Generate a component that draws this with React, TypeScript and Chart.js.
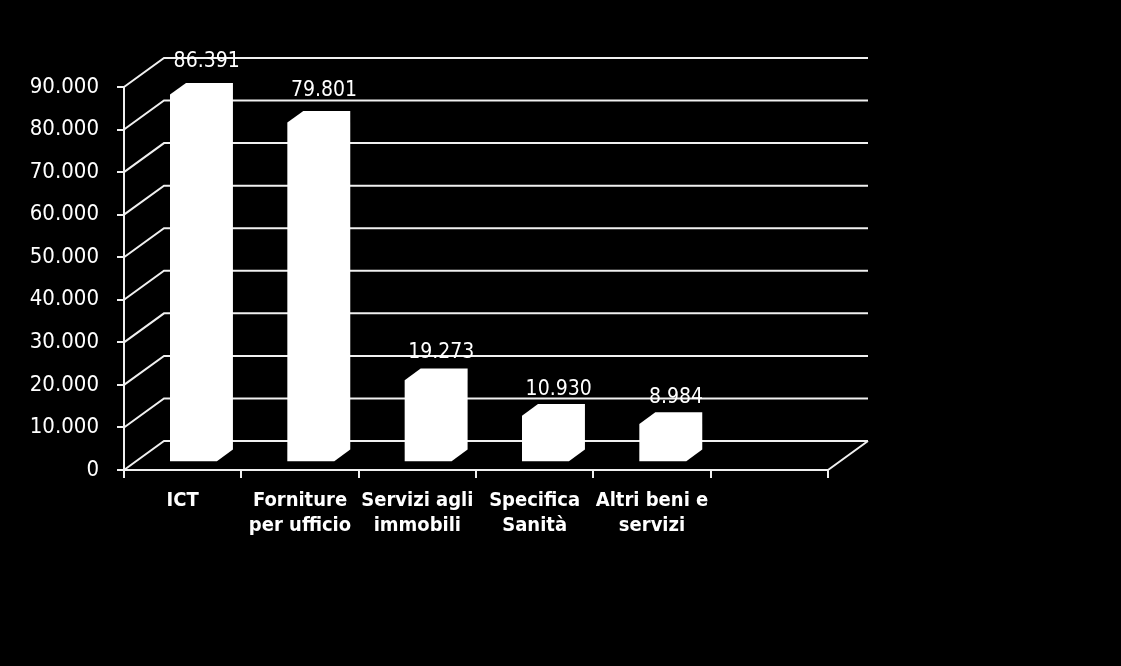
import React, { useEffect, useRef } from 'react';
import { Chart, registerables } from 'chart.js';

Chart.register(...registerables);

// ---- data ----
const categories: (string | string[])[] = [
  ['ICT'],
  ['Forniture', 'per ufficio'],
  ['Servizi agli', 'immobili'],
  ['Specifica', 'Sanità'],
  ['Altri beni e', 'servizi'],
  '',
];
const values: (number | null)[] = [86391, 79801, 19273, 10930, 8984, null];
const yMin = 0;
const yMax = 90000;
const yStep = 10000;

// ---- style ----
const FONT = "'DejaVu Sans Condensed', 'DejaVu Sans', sans-serif";
const LINE = '#f0f0f0';
const DEPTH_DX = 40;
const DEPTH_DY = -29;
const BAR_FRONT = 0.27;
const BAR_BACK = 0.67;

function fmt(v: number): string {
  return Math.round(v)
    .toString()
    .replace(/\B(?=(\d{3})+(?!\d))/g, '.');
}

const threeD = {
  id: 'threeD',
  beforeDatasetsDraw(chart: any) {
    const { ctx, chartArea, scales } = chart;
    const { left, right, bottom } = chartArea;
    const y = scales.y;
    ctx.save();
    ctx.strokeStyle = LINE;
    ctx.lineWidth = 2;
    ctx.beginPath();
    y.ticks.forEach((t: any) => {
      const py = y.getPixelForValue(t.value);
      ctx.moveTo(left, py);
      ctx.lineTo(left + DEPTH_DX, py + DEPTH_DY);
      ctx.lineTo(right + DEPTH_DX, py + DEPTH_DY);
    });
    ctx.moveTo(right, bottom);
    ctx.lineTo(right + DEPTH_DX, bottom + DEPTH_DY);
    ctx.stroke();
    ctx.restore();
  },
  afterDatasetsDraw(chart: any) {
    const { ctx } = chart;
    const meta = chart.getDatasetMeta(0);
    const fx = DEPTH_DX * BAR_FRONT;
    const fy = DEPTH_DY * BAR_FRONT;
    const bx = DEPTH_DX * BAR_BACK;
    const by = DEPTH_DY * BAR_BACK;
    ctx.save();
    meta.data.forEach((el: any, i: number) => {
      const v = values[i];
      if (v == null) return;
      const { x, y, base, width } = el.getProps(['x', 'y', 'base', 'width'], true);
      const x0 = x - width / 2;
      const x1 = x + width / 2;
      ctx.fillStyle = '#ffffff';
      ctx.beginPath();
      ctx.moveTo(x0 + fx, base + fy);
      ctx.lineTo(x0 + fx, y + fy);
      ctx.lineTo(x0 + bx, y + by);
      ctx.lineTo(x1 + bx, y + by);
      ctx.lineTo(x1 + bx, base + by);
      ctx.lineTo(x1 + fx, base + fy);
      ctx.closePath();
      ctx.fill();

      ctx.fillStyle = '#ffffff';
      ctx.font = `21px ${FONT}`;
      ctx.textAlign = 'center';
      ctx.textBaseline = 'middle';
      const lift = 14 + (base - y) * 0.02;
      ctx.fillText(fmt(v), x + 24, y + by - lift);
    });
    ctx.restore();
  },
};

export default function App() {
  const ref = useRef<HTMLCanvasElement | null>(null);

  useEffect(() => {
    if (!ref.current) return;
    const chart = new Chart(ref.current, {
      type: 'bar',
      data: {
        labels: categories as any,
        datasets: [
          {
            data: values as any,
            backgroundColor: 'rgba(0,0,0,0)',
            borderWidth: 0,
            barPercentage: 0.4,
            categoryPercentage: 1,
          },
        ],
      },
      options: {
        responsive: false,
        animation: false,
        devicePixelRatio: 1,
        layout: { padding: { top: 87, right: 293, left: 0, bottom: 0 } },
        plugins: { legend: { display: false }, tooltip: { enabled: false } },
        scales: {
          x: {
            offset: true,
            grid: {
              display: true,
              drawOnChartArea: false,
              drawTicks: true,
              tickLength: 8,
              color: LINE,
              lineWidth: 2,
              offset: true,
            },
            border: { display: true, color: LINE, width: 2 },
            ticks: {
              color: '#ffffff',
              font: { family: FONT, size: 20, weight: 'bold', lineHeight: 1.25 },
              padding: 10,
              maxRotation: 0,
              autoSkip: false,
            },
            afterFit: (s: any) => {
              s.height = 196;
            },
          },
          y: {
            min: yMin,
            max: yMax,
            grid: {
              display: true,
              drawOnChartArea: false,
              drawTicks: true,
              tickLength: 7,
              color: LINE,
              lineWidth: 2,
            },
            border: { display: true, color: LINE, width: 2 },
            ticks: {
              stepSize: yStep,
              color: '#ffffff',
              font: { family: FONT, size: 22 },
              padding: 18,
              callback: (v: any) => fmt(Number(v)),
            },
            afterFit: (s: any) => {
              s.width = 124;
            },
          },
        },
      },
      plugins: [threeD],
    });
    return () => chart.destroy();
  }, []);

  return (
    <div
      style={{
        position: 'fixed',
        left: 0,
        top: 0,
        width: 1121,
        height: 666,
        background: '#000',
      }}
    >
      <canvas ref={ref} width={1121} height={666} style={{ display: 'block' }} />
    </div>
  );
}
